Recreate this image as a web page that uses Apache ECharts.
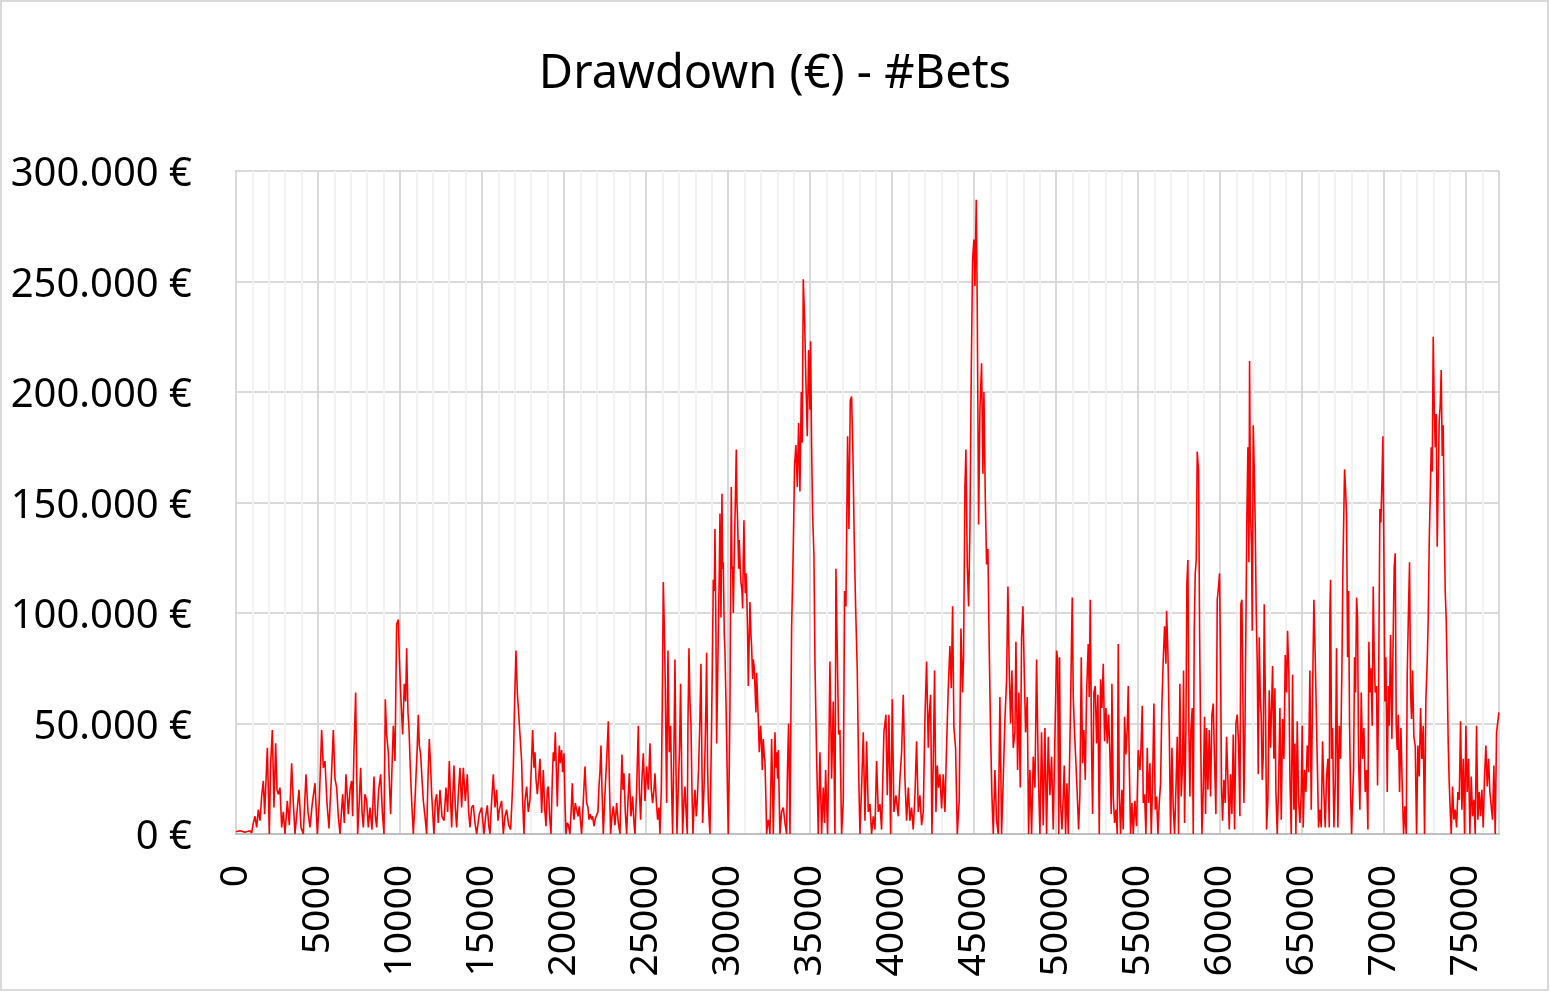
<!DOCTYPE html>
<html>
<head>
<meta charset="utf-8">
<title>Drawdown (€) - #Bets</title>
<script src="https://cdn.jsdelivr.net/npm/echarts@6/dist/echarts.min.js"></script>
<style>
  html, body { margin: 0; padding: 0; background: #fff; }
  #main { width: 1550px; height: 993px; }
</style>
</head>
<body>
<div id="main"></div>
<script>
// bet number (x)
var bets = [
  0, 244, 548, 853, 955, 1056, 1158, 1260, 1361, 1463, 1564, 1666, 1747, 1910, 2032, 2113, 2215, 2316, 2418, 2499,
  2580, 2682, 2784, 2885, 2987, 3129, 3251, 3393, 3495, 3596, 3840, 3962, 4104, 4267, 4389, 4511, 4653, 4816, 4958, 5080,
  5222, 5324, 5425, 5547, 5669, 5811, 5933, 6035, 6136, 6238, 6340, 6502, 6604, 6705, 6848, 6949, 7051, 7112, 7193, 7295,
  7356, 7417, 7518, 7600, 7681, 7762, 7864, 7965, 8067, 8168, 8290, 8412, 8494, 8575, 8697, 8819, 8920, 9022, 9103, 9184,
  9286, 9367, 9428, 9510, 9591, 9692, 9794, 9896, 9957, 10038, 10160, 10261, 10343, 10404, 10485, 10546, 10627, 10708, 10810, 10912,
  10973, 11054, 11115, 11176, 11257, 11339, 11420, 11522, 11623, 11704, 11785, 11867, 11928, 12070, 12151, 12232, 12334, 12436, 12558, 12680,
  12801, 12903, 13005, 13086, 13147, 13289, 13371, 13452, 13554, 13655, 13757, 13858, 13980, 14102, 14183, 14264, 14366, 14468, 14569, 14671,
  14833, 14976, 15118, 15219, 15321, 15402, 15484, 15585, 15687, 15788, 15890, 15971, 16053, 16195, 16296, 16398, 16500, 16622, 16743, 16825,
  16906, 16987, 17069, 17150, 17231, 17312, 17414, 17475, 17556,
  17618, 17719, 17821, 17923, 18004, 18085, 18166, 18227, 18288, 18370, 18451, 18532, 18634, 18735, 18817, 18898, 18979, 19040, 19121, 19203,
  19284, 19345, 19406, 19467, 19528, 19589, 19650, 19711, 19772, 19853, 19914, 19995, 20056, 20117, 20198, 20259, 20361, 20442, 20503, 20564,
  20605, 20686, 20767, 20849, 20930, 21011, 21072, 21174, 21275, 21336, 21377, 21458, 21519, 21600, 21682, 21743, 21824, 21905, 21987, 22068,
  22129, 22190, 22251, 22312, 22393, 22474, 22556, 22637, 22698, 22759, 22840, 22921, 23003, 23104, 23206, 23307, 23409, 23470, 23531, 23592,
  23653, 23734, 23815, 23897, 23978, 24080, 24181, 24262, 24323, 24425, 24527, 24588, 24669, 24750, 24831, 24933, 25034, 25136, 25238, 25319,
  25400, 25482, 25543, 25624, 25705, 25786, 25847, 25929, 25990, 26051, 26112, 26172, 26254, 26335, 26416, 26498, 26559, 26620, 26701, 26762,
  26823, 26884, 26965, 27046, 27107, 27168, 27229, 27310, 27371, 27452, 27513, 27554, 27615, 27676, 27737, 27798, 27859, 27920, 27981, 28062,
  28123, 28204, 28286, 28347, 28408, 28449, 28530, 28591, 28652, 28692, 28753, 28794, 28855, 28896, 28977, 29038, 29099, 29160, 29200, 29261,
  29302, 29363, 29404, 29465, 29505, 29566, 29627, 29668, 29708, 29769, 29810, 29871, 29911, 29972, 30013, 30074, 30115, 30155, 30196, 30236,
  30277, 30318, 30379, 30440, 30501, 30541, 30582, 30643, 30683, 30744, 30785, 30846, 30887, 30927, 30968, 31008, 31049, 31090, 31130, 31191,
  31232, 31293, 31334, 31395, 31435, 31496, 31537, 31598, 31638, 31699, 31740, 31801, 31842, 31903, 31984, 32045, 32086, 32147, 32208, 32248,
  32309, 32350, 32411, 32452, 32513, 32553, 32614, 32655, 32716, 32757, 32817, 32858, 32919, 32960, 33021, 33061, 33122, 33163,
  33264, 33365, 33467, 33569, 33620, 33690, 33772, 33873, 33975, 34056, 34137, 34219, 34300, 34381, 34462, 34523, 34584, 34666, 34747, 34828,
  34910, 34991, 35031, 35092, 35153, 35235, 35296, 35397, 35499, 35600, 35702, 35804, 35885, 35946, 36068, 36149, 36210, 36312, 36413, 36515,
  36576, 36657, 36738, 36820, 36921, 37023, 37104, 37185, 37287, 37368, 37449, 37531, 37612, 37693, 37775, 37876, 37958, 38039, 38140, 38242,
  38344, 38445, 38547, 38648, 38750, 38852, 38953, 39055, 39156, 39258, 39360, 39502, 39624, 39705, 39807, 39908, 40010, 40111, 40233, 40376,
  40477, 40579, 40680, 40782, 40884, 40985, 41087, 41188, 41290, 41392, 41493, 41595, 41696, 41798, 41900, 42001, 42103, 42204, 42265, 42347,
  42428, 42509, 42590, 42672, 42753, 42834, 42916, 43017, 43119, 43220, 43322, 43424, 43525, 43606, 43688, 43769, 43871, 43972, 44094, 44196,
  44297, 44358, 44440, 44501, 44582, 44663, 44745, 44826, 44907, 44988, 45049, 45130, 45191, 45273, 45354, 45456, 45537, 45598, 45679, 45760,
  45842, 45923, 46004, 46086, 46167, 46268, 46370, 46472, 46573, 46675, 46776, 46878, 46980, 47061, 47142, 47223, 47305, 47386, 47488, 47549,
  47650, 47731, 47813, 47894, 47975, 48056, 48138, 48239, 48321, 48402, 48504, 48605, 48707, 48808, 48910, 49012, 49113, 49215, 49316, 49418,
  49520, 49621, 49723, 49824, 49926, 50028, 50090,
  50160, 50210, 50272, 50353, 50434, 50495, 50577, 50658, 50739, 50800, 50881, 50942, 50983, 51044, 51125, 51207, 51288, 51369, 51450, 51532,
  51613, 51694, 51776, 51857, 51958, 52019, 52080, 52162, 52223, 52304, 52385, 52466, 52548, 52629, 52710, 52792, 52873, 52954, 53035, 53117,
  53198, 53279, 53360, 53401, 53482, 53564, 53645, 53726, 53787, 53848, 53929, 54011, 54092, 54173, 54254, 54336, 54397, 54458, 54539, 54620,
  54702, 54803, 54905, 55006, 55108, 55169, 55250, 55311, 55392, 55474, 55555, 55636, 55718, 55799, 55880, 55961, 56043, 56124, 56205, 56287,
  56368, 56449, 56530, 56612, 56693, 56734, 56815, 56896, 56977, 57059, 57140, 57221, 57302, 57384, 57465, 57546, 57628, 57709, 57770, 57831,
  57912, 57973, 58034, 58095, 58156, 58217, 58298, 58359, 58420, 58481, 58542, 58603, 58685, 58746, 58806, 58888, 58969, 59050, 59111, 59172,
  59253, 59335, 59416, 59497, 59578, 59660, 59741, 59822, 59903, 59964, 60025, 60086, 60147, 60229, 60310, 60391, 60472, 60554, 60635, 60716,
  60798, 60879, 60960, 61041, 61123, 61204, 61265, 61326, 61387, 61448, 61509, 61570, 61631, 61692, 61753, 61793, 61854, 61915, 61956, 62017,
  62078, 62139, 62200, 62261, 62322, 62383, 62444, 62505, 62565, 62626, 62687, 62769, 62830, 62911, 62992, 63073,
  63196, 63277, 63338, 63399, 63480, 63561, 63643, 63724, 63805, 63886, 63968, 64049, 64110, 64191, 64252, 64333, 64415, 64496, 64557, 64618,
  64699, 64781, 64862, 64943, 65004, 65065, 65146, 65228, 65309, 65390, 65471, 65553, 65634, 65715, 65796, 65857, 65918, 65999, 66081, 66162,
  66243, 66325, 66406, 66487, 66569, 66650, 66690, 66731, 66792, 66853, 66934, 67016, 67097, 67178, 67260, 67341, 67422, 67483, 67544, 67585,
  67646, 67707, 67768, 67829, 67890, 67951, 68012, 68073, 68134, 68194, 68255, 68316, 68377, 68438, 68519, 68601, 68682, 68763, 68844, 68926,
  69007, 69068, 69129, 69190, 69271, 69332, 69393, 69454, 69535, 69596, 69657, 69739, 69800, 69861, 69922, 69983, 70043, 70104, 70186, 70247,
  70308, 70389, 70470, 70551, 70612, 70673, 70734, 70795, 70856, 70937, 71019, 71100, 71181, 71263, 71344, 71405, 71486, 71547, 71608, 71669,
  71730, 71811, 71893, 71974, 72055, 72136, 72218, 72299, 72380, 72461, 72543, 72624, 72685, 72746, 72807, 72868, 72929, 72990, 73051, 73112,
  73172, 73233, 73294, 73355, 73416, 73477, 73538, 73600, 73660, 73721, 73782, 73843, 73904, 73965, 74026, 74087, 74168, 74250, 74331, 74412,
  74493, 74575, 74656, 74737, 74819, 74900, 74981, 75062, 75144, 75225, 75306, 75387, 75469, 75550, 75631, 75712, 75794, 75875, 75956, 76038,
  76119, 76200, 76282, 76363, 76444, 76525, 76606, 76688, 76769, 76850, 76932, 76993
];

// drawdown in thousands of euro, same order as bets
var drawdownK = [
  1, 1.5, 0.8, 1.5, 0.5, 5, 8, 3, 11, 6, 17, 24, 9, 39, 0, 32, 47, 12, 41, 20,
  18, 21, 3, 10, 0, 15, 4, 32, 14, 0, 20, 3, 0, 27, 10, 3, 14, 23, 0, 15,
  47, 30, 33, 14, 2.5, 25, 47, 25, 21, 8, 0, 18, 5, 27, 9, 20, 24, 8, 38, 64,
  30, 0, 15, 30, 10, 3, 18, 15, 3, 12, 2, 26, 8, 3, 20, 27, 10, 0, 61, 45,
  37, 20, 9, 30, 49, 33, 95, 97, 80, 64, 45, 68, 60, 84, 55, 48, 30, 15, 0, 15,
  26, 40, 54, 40, 36, 25, 15, 8, 0, 25, 43, 30, 18, 0, 15, 18, 5, 20, 8, 6,
  21, 10, 33, 15, 3, 31, 12, 3, 18, 30, 12, 30, 15, 27, 10, 3, 12, 13, 5, 0,
  9, 12, 0, 8, 13, 4, 0, 15, 27, 12, 20, 6, 11, 15, 0, 8, 11, 4, 2, 15,
  30, 60, 83, 64, 55, 45, 33, 15, 0,
  15, 21.5, 10, 15.5, 30, 47, 30, 37, 25, 18, 25, 34, 9.5, 29, 12, 3.5, 20, 21.5, 8, 0,
  25, 37, 33, 46, 30, 12.5, 30, 40, 32, 38, 28, 36.5, 15, 0, 5, 4, 0, 12, 23, 10,
  6.5, 14, 14, 8, 12.5, 5, 0, 15, 30.5, 20, 14, 12, 6.5, 9, 6.5, 8, 3.5, 7, 6.5, 10,
  21.5, 28, 40, 20, 0, 15, 27.5, 40, 51, 25, 0, 8, 12.5, 4, 14, 5, 0, 20, 36, 20,
  27.5, 10, 0, 15, 27.5, 8, 17, 5, 0, 20, 49, 20, 6.5, 25, 36.5, 15, 30.5, 20, 41, 20,
  14, 20, 27.5, 15, 6.5, 12, 0, 20, 60, 114, 94, 67, 14, 83, 37, 49, 20, 0, 40, 79,
  30, 0, 21.5, 40, 68, 30, 0, 15, 21.5, 8, 0, 50, 84, 60, 50, 20, 0, 12, 20, 8,
  15.5, 30, 53, 77, 30, 5, 20, 36.5, 60, 82, 30, 15.5, 5, 0, 40, 75, 115, 110, 138, 90,
  41, 70, 91, 120, 145, 98, 154, 120, 123, 90, 83, 60, 43, 15, 0, 30, 58, 110, 157, 120,
  121, 100, 127, 150, 174, 150, 142, 120, 133, 120, 114, 110, 102, 125, 142, 120, 109, 118, 112, 90,
  67, 90, 105, 90, 85, 70, 79, 75, 67, 55, 73, 60, 52, 37, 49, 40, 29, 43, 35, 33,
  15, 0, 5, 6.5, 3, 0, 25, 43, 20, 0, 25, 46, 30, 37, 25, 38, 15, 0,
  10, 12, 5, 0, 29, 50, 0, 93, 130, 167, 176, 157, 186, 155, 200, 177, 251, 233, 204, 180,
  219, 192, 223, 176, 145, 126, 78, 35, 0, 37, 0, 21, 5, 29, 0, 40, 78, 25, 60, 0,
  120, 83, 45, 47, 0, 15, 110, 103, 180, 138, 196, 198, 172, 132, 103, 74, 29, 0, 21, 46,
  6, 42, 10, 13.5, 0, 8, 2, 33, 10, 13.5, 2, 46, 54, 17.5, 54, 0, 61, 10, 17.5, 8,
  25, 37, 63, 25, 6, 21, 6, 12, 2, 17.5, 42, 10, 17.5, 4, 10, 52, 78, 39, 54, 63,
  0, 33, 74, 10, 31, 21, 27, 11.5, 27, 10, 40, 66, 85, 66, 103, 48, 39, 0, 15.5, 93,
  64, 81, 157, 174, 122, 103, 138, 209, 260, 269, 248, 287, 238, 140, 192, 213, 163, 200, 153, 122,
  129, 83, 45, 17.5, 0, 29, 6, 0, 62, 0, 25, 52, 70, 112, 74, 50, 74, 39, 46, 87,
  29, 64, 21, 89, 103, 74, 46, 62, 0, 29, 0, 35, 21, 79, 29, 0, 46, 4, 48, 0,
  44, 17.5, 35, 2, 44, 83, 79,
  0, 80, 14, 2, 17, 31, 0, 23, 0, 24.5, 58, 89, 107, 62, 45.5, 32, 18, 2, 18, 80,
  32, 47, 24.5, 64, 86, 62, 106, 38, 9, 64, 67, 41, 63, 0, 70, 57, 77, 42, 57, 41,
  54, 36, 9, 68, 17, 5, 11, 0, 86, 20, 0, 20, 2, 53, 36, 48, 67, 32, 0, 14,
  0, 15, 3.5, 38, 29, 38, 58, 14, 18, 0, 39, 14, 32, 0, 23, 59, 11, 17, 0, 14,
  23, 59, 79, 94, 77, 101, 82, 47, 0, 39, 12, 0, 20, 44, 0, 68, 17, 32, 74, 5,
  47, 114, 124, 47, 17, 47, 57, 0, 92, 118, 124, 173, 164, 92, 47, 0, 20, 53, 9, 48,
  20, 47, 17, 54, 59, 32, 9, 106, 112, 118, 77, 21, 6, 24.5, 14, 44, 24.5, 2, 27, 9,
  45, 2, 50, 54, 41, 8, 104, 106, 62, 14, 44, 95, 145, 175, 123, 214, 144, 130, 92, 185,
  165, 139, 100, 77, 27, 89, 62, 53, 24.5, 35, 104, 54, 2, 15.5, 65, 39,
  76, 34, 66, 19, 0, 21.5, 57, 6.5, 52, 34, 81, 64, 92, 72, 26, 0, 72, 11, 41, 0,
  51, 15.5, 5, 19, 49, 3, 29, 19, 40, 28, 74, 11, 64, 106, 80, 57, 34, 3, 11, 3,
  42, 19, 3, 26, 34, 3, 101, 115, 34, 48, 3, 22, 84, 3, 49, 34, 74, 120, 147, 165,
  156, 144, 80, 110, 49, 19, 0, 16, 29, 80, 64, 107, 98, 34, 11, 64, 34, 48, 19, 29,
  2, 87, 64, 75, 49, 112, 80, 64, 67, 22, 64, 147, 141, 159, 180, 126, 60, 80, 19, 67,
  49, 90, 43, 91, 121, 127, 49, 38, 54, 19, 48, 22, 0, 12.5, 0, 72, 103, 123, 64, 52,
  74, 44, 40, 0, 40, 26, 57, 34, 49, 0, 61, 78, 98, 132, 153, 175, 164, 225, 194, 175,
  190, 130, 159, 187, 194, 210, 171, 185, 141, 110, 97, 72, 41, 23, 11, 0, 21.5, 6.5, 11, 3,
  19, 15.5, 51, 11, 34, 0, 49, 19, 34, 0, 26, 8, 15.5, 0, 49, 6.5, 19, 8, 20, 3,
  26, 40, 21.5, 34, 19, 12.5, 6.5, 31, 0, 46, 51, 55
];

// axis settings
var xMax = 77000;
var xStep = 5000;
var xMinorStep = 1000;
var yMax = 300;
var yStep = 50;

var chartFont = 'Noto Sans';

var seriesData = [];
for (var i = 0; i < bets.length; i++) {
    seriesData.push([bets[i], drawdownK[i]]);
}

var myChart = echarts.init(document.getElementById('main'), null, { renderer: 'canvas' });

var option = {
    backgroundColor: '#ffffff',
    animation: false,
    title: {
        text: 'Drawdown (€) - #Bets',
        left: 'center',
        top: 46,
        textStyle: {
            fontFamily: chartFont,
            fontSize: 47,
            fontWeight: 'normal',
            color: '#000000'
        }
    },
    graphic: [{
        type: 'rect',
        shape: { x: 1, y: 1, width: 1547, height: 989 },
        style: { fill: 'none', stroke: '#d9d9d9', lineWidth: 2 },
        silent: true
    }],
    grid: {
        left: 236,
        right: 51,
        top: 171,
        bottom: 159,
        containLabel: false
    },
    xAxis: [{
        type: 'value',
        min: 0,
        max: xMax,
        interval: xStep,
        z: 2,
        axisLine: { show: true, onZero: false, lineStyle: { color: '#bfbfbf', width: 2 } },
        axisTick: { show: false },
        axisLabel: {
            rotate: 90,
            margin: 31,
            fontFamily: chartFont,
            fontSize: 39,
            color: '#000000',
            showMaxLabel: false,
            formatter: function (v) {
                return v % xStep === 0 ? String(v) : '';
            }
        },
        splitLine: { show: true, lineStyle: { color: '#d9d9d9', width: 2 } }
    }, {
        // minor vertical gridlines every 1000 bets
        type: 'value',
        min: 0,
        max: xMax,
        interval: xMinorStep,
        position: 'bottom',
        z: 1,
        axisLine: { show: false },
        axisTick: { show: false },
        axisLabel: { show: false },
        splitLine: { show: true, lineStyle: { color: '#f2f2f2', width: 2 } }
    }],
    yAxis: {
        type: 'value',
        min: 0,
        max: yMax,
        interval: yStep,
        axisLine: { show: true, lineStyle: { color: '#bfbfbf', width: 2 } },
        axisTick: { show: false },
        axisLabel: {
            margin: 44,
            formatter: function (v) {
                return '{t|' + (v === 0 ? '0 €' : v + '.000 €') + '}';
            },
            rich: {
                t: {
                    fontFamily: chartFont,
                    fontSize: 40,
                    color: '#000000',
                    padding: [8, 0, 0, 0]
                }
            }
        },
        splitLine: { show: true, lineStyle: { color: '#d9d9d9', width: 2 } }
    },
    series: [{
        name: 'Drawdown',
        type: 'line',
        xAxisIndex: 0,
        data: seriesData,
        showSymbol: false,
        symbol: 'none',
        sampling: false,
        z: 3,
        lineStyle: { color: '#ff0000', width: 1.6 }
    }]
};

myChart.setOption(option);
</script>
</body>
</html>
